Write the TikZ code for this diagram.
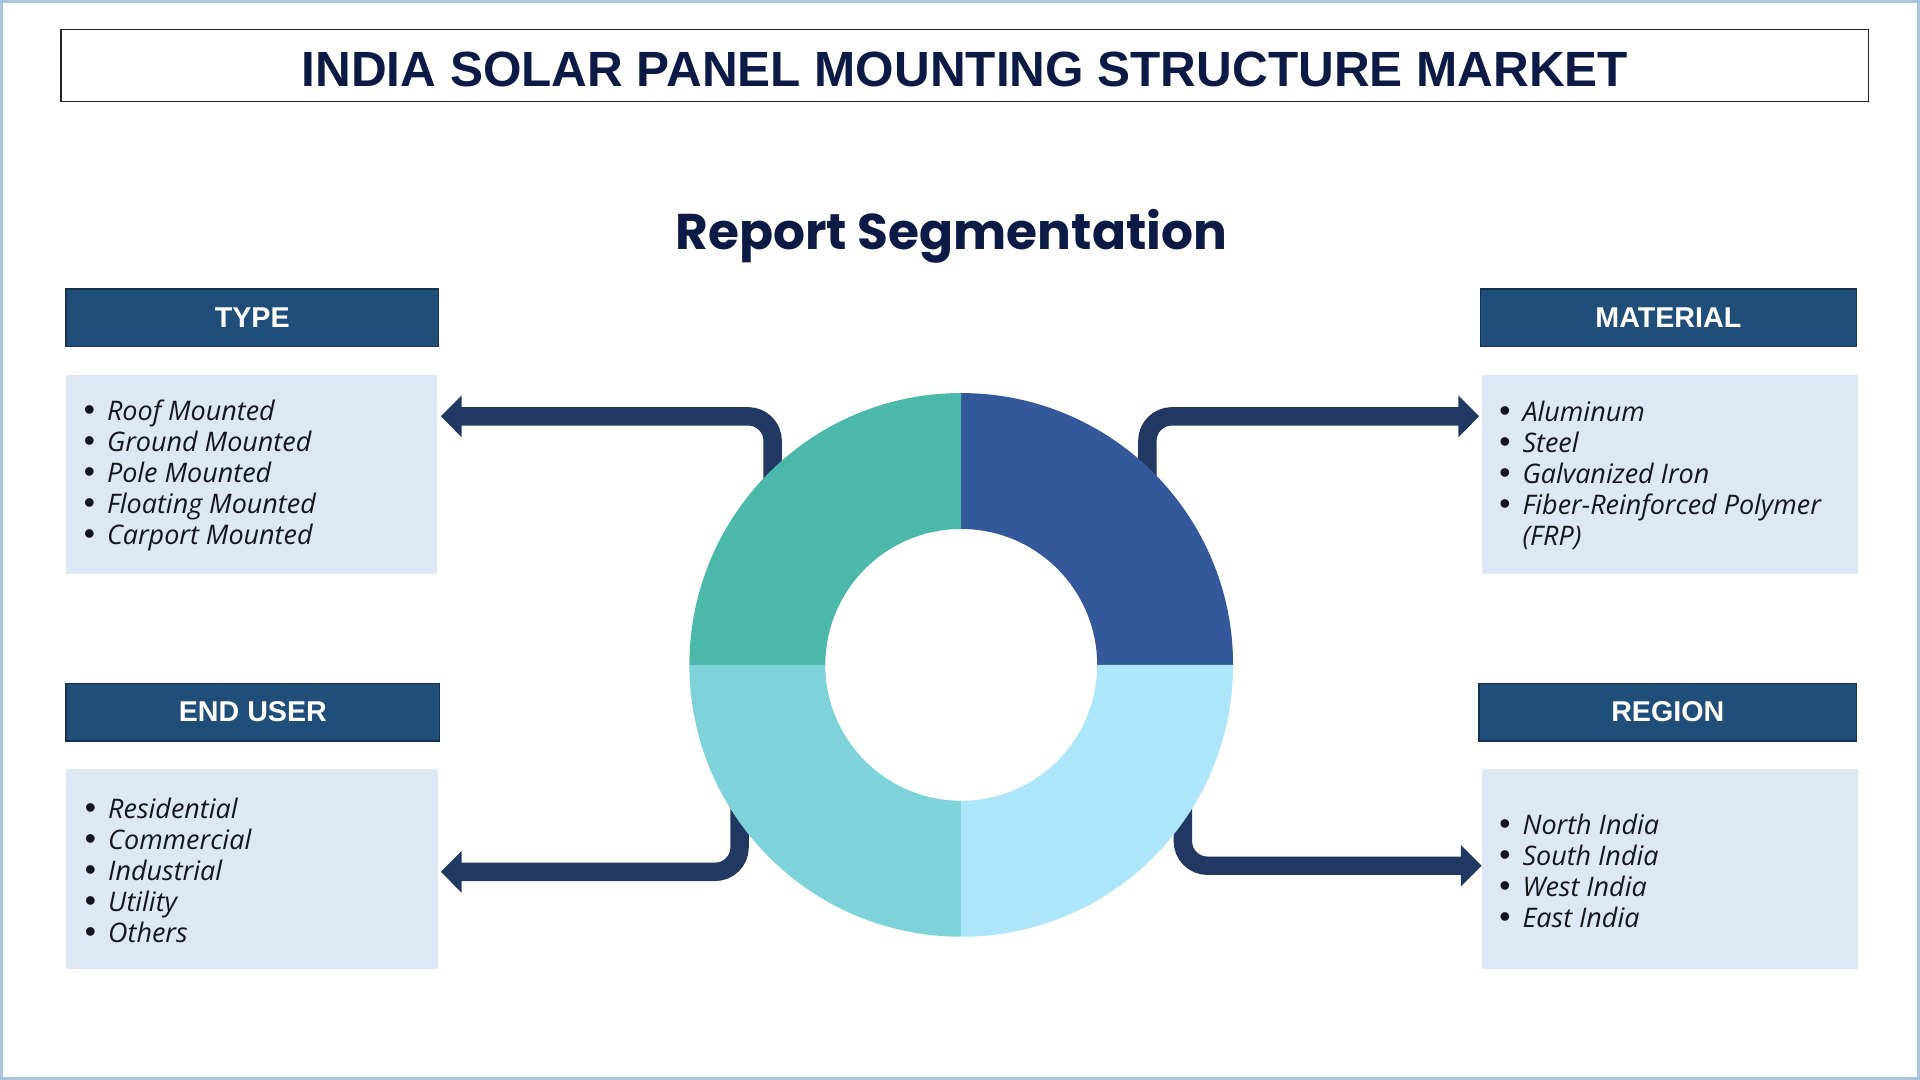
\documentclass[tikz,border=0pt]{standalone}
\usepackage{fontspec}
\setmainfont{Open Sans}
\newfontfamily\headfont{Liberation Sans}
\newfontfamily\segfont{Poppins}
\usetikzlibrary{arrows.meta}
\definecolor{navytext}{HTML}{0C1A45}
\definecolor{headfill}{HTML}{1F4E79}
\definecolor{headline}{HTML}{17324F}
\definecolor{listfill}{HTML}{DEE8F4}
\definecolor{connavy}{HTML}{213962}
\definecolor{quadTL}{HTML}{4BB8A9}
\definecolor{quadTR}{HTML}{33599A}
\definecolor{quadBL}{HTML}{7ED3DA}
\definecolor{quadBR}{HTML}{ADE6FA}
\definecolor{framecol}{HTML}{A9C6DD}
\definecolor{itemcol}{HTML}{15151F}
\tikzset{
  headbox/.style={draw=headline, line width=0.6pt, fill=headfill, text=white,
    minimum height=23.5pt, inner sep=0pt,
    font=\headfont\bfseries\fontsize{11.7}{14}\selectfont},
  listbox/.style={fill=listfill, minimum height=81.5pt, inner sep=0pt},
  listtext/.style={anchor=west, align=left, inner sep=0pt, text=itemcol,
    font=\itshape\fontsize{11}{12.65}\selectfont},
  conn/.style={draw=connavy, line width=7.5pt, rounded corners=10pt,
    -{Triangle[width=16.5pt,length=8.5pt]}}
}
\newcommand{\bul}{\makebox[9.5pt][l]{\headfont\upshape\fontsize{13}{12}\selectfont\textbullet}}
\begin{document}
\begin{tikzpicture}[x=0.5pt,y=-0.5pt]
\useasboundingbox (0,0) rectangle (1568,882);
\draw[framecol, line width=1.2pt] (1,1) rectangle (1567,881);
%
\node[draw=black!85, line width=0.6pt, minimum width=738pt, minimum height=29.5pt,
  text height=17.5pt, text depth=0pt, text=navytext, font=\headfont\bfseries\fontsize{20.2}{22}\selectfont] (title) at (788,53.5)
  {INDIA SOLAR PANEL MOUNTING STRUCTURE MARKET};
\node[text=navytext, font=\segfont\bfseries\fontsize{20.5}{22}\selectfont] (seg) at (777,193)
  {Report Segmentation};
%
\node[headbox, minimum width=152pt] (type) at (206,259.5) {TYPE};
\node[headbox, minimum width=153.5pt] (material) at (1362.5,259.5) {MATERIAL};
\node[headbox, minimum width=152.5pt] (enduser) at (206.5,581.5) {END USER};
\node[headbox, minimum width=154pt] (region) at (1362,581.5) {REGION};
%
\node[listbox, minimum width=151.5pt] (typelist) at (205.5,387.5) {};
\node[listbox, minimum width=153.5pt] (matlist) at (1363.5,387.5) {};
\node[listbox, minimum width=152pt] (enduserlist) at (206,709.5) {};
\node[listbox, minimum width=153.5pt] (regionlist) at (1363.5,709.5) {};
%
\node[listtext] (typeitems) at (68,388.5)
  {\bul Roof Mounted\\ \bul Ground Mounted\\ \bul Pole Mounted\\ \bul Floating Mounted\\ \bul Carport Mounted};
\node[listtext] (matitems) at (1224,388.5)
  {\bul Aluminum\\ \bul Steel\\ \bul Galvanized Iron\\ \bul Fiber-Reinforced Polymer\\ \hspace*{9.5pt}(FRP)};
\node[listtext] (enduseritems) at (69,710.5)
  {\bul Residential\\ \bul Commercial\\ \bul Industrial\\ \bul Utility\\ \bul Others};
\node[listtext] (regionitems) at (1224,711)
  {\bul North India\\ \bul South India\\ \bul West India\\ \bul East India};
%
\coordinate (tlstart) at (631,430);
\coordinate (trstart) at (937,430);
\coordinate (blstart) at (604,650);
\coordinate (brstart) at (966,650);
\coordinate (tlend) at (360,340);
\coordinate (trend) at (1208,340);
\coordinate (blend) at (360,712);
\coordinate (brend) at (1210,707);
\draw[conn] (tlstart) |- (tlend);
\draw[conn] (trstart) |- (trend);
\draw[conn] (blstart) |- (blend);
\draw[conn] (brstart) |- (brend);
%
\begin{scope}[shift={(785,543)}, x=1pt, y=1pt]
\fill[quadTR] (0:55.5pt) -- (0:111pt) arc[start angle=0, end angle=90, radius=111pt]
  -- (90:55.5pt) arc[start angle=90, end angle=0, radius=55.5pt] -- cycle;
\fill[quadTL] (90:55.5pt) -- (90:111pt) arc[start angle=90, end angle=180, radius=111pt]
  -- (180:55.5pt) arc[start angle=180, end angle=90, radius=55.5pt] -- cycle;
\fill[quadBL] (180:55.5pt) -- (180:111pt) arc[start angle=180, end angle=270, radius=111pt]
  -- (270:55.5pt) arc[start angle=270, end angle=180, radius=55.5pt] -- cycle;
\fill[quadBR] (270:55.5pt) -- (270:111pt) arc[start angle=270, end angle=360, radius=111pt]
  -- (0:55.5pt) arc[start angle=360, end angle=270, radius=55.5pt] -- cycle;
\end{scope}
\end{tikzpicture}
\end{document}
